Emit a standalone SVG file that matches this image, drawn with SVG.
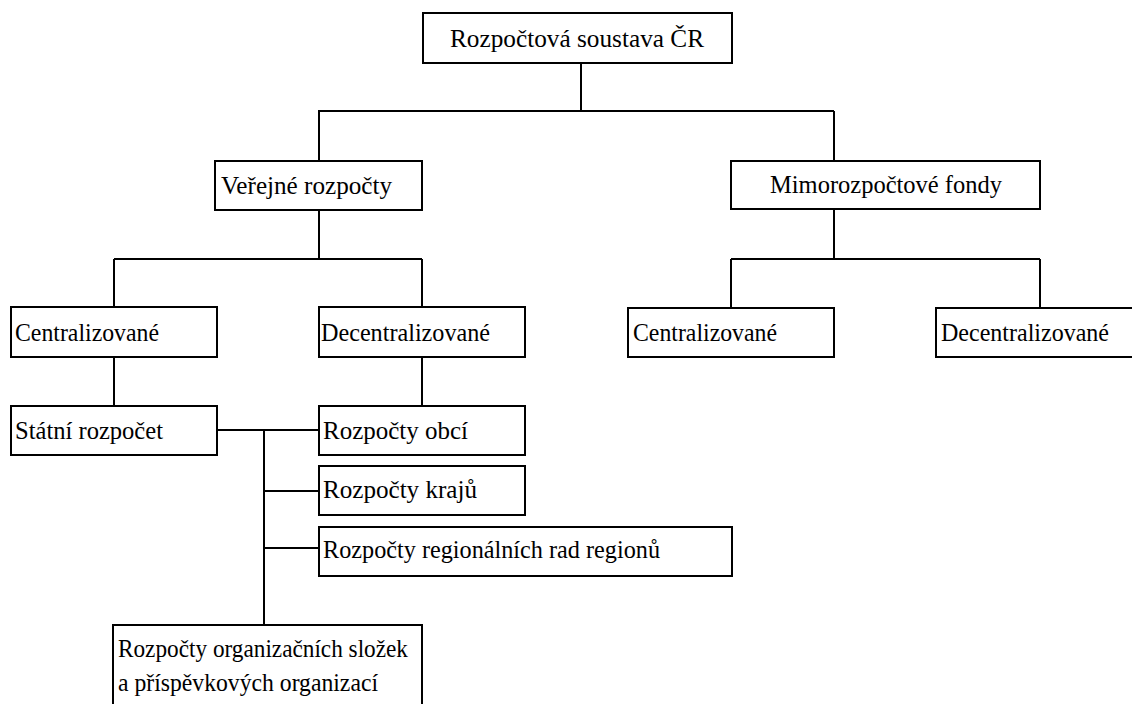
<svg xmlns="http://www.w3.org/2000/svg" width="1132" height="704" viewBox="0 0 1132 704">
<style>
.box{fill:#fff;stroke:#000;stroke-width:2}
.ln{fill:none;stroke:#000;stroke-width:2}
text{font-family:"Liberation Serif","Times New Roman",serif;font-size:25px;fill:#000}
</style>
<rect width="1132" height="704" fill="#fff"/>
<g id="connectors">
<path class="ln" d="M581 63V111M318 111H834M319 111V161M834 111V161"/>
<path class="ln" d="M319 210V259M114 259H422M114 259V307M422 259V307"/>
<path class="ln" d="M834 209V259M731 259H1040M731 259V308M1040 259V308"/>
<path class="ln" d="M114 357V406M422 357V406"/>
<path class="ln" d="M217 430H319M264 430V625M264 491H319M264 548H319"/>
</g>
<g id="n_root"><rect class="box" x="423" y="13" width="309" height="50"/><text x="450" y="47" textLength="254" lengthAdjust="spacingAndGlyphs">Rozpočtová soustava ČR</text></g>
<g id="n_verejne"><rect class="box" x="215" y="161" width="207" height="49"/><text x="221" y="194" textLength="171" lengthAdjust="spacingAndGlyphs">Veřejné rozpočty</text></g>
<g id="n_mimo"><rect class="box" x="731" y="161" width="309" height="48"/><text x="770" y="193" textLength="232" lengthAdjust="spacingAndGlyphs">Mimorozpočtové fondy</text></g>
<g id="n_centr1"><rect class="box" x="11" y="307" width="206" height="50"/><text x="15" y="341" textLength="144" lengthAdjust="spacingAndGlyphs">Centralizované</text></g>
<g id="n_decentr1"><rect class="box" x="319" y="307" width="206" height="50"/><text x="321" y="341" textLength="169" lengthAdjust="spacingAndGlyphs">Decentralizované</text></g>
<g id="n_centr2"><rect class="box" x="628" y="308" width="206" height="49"/><text x="633" y="341" textLength="144" lengthAdjust="spacingAndGlyphs">Centralizované</text></g>
<g id="n_decentr2"><rect class="box" x="936" y="308" width="210" height="49"/><text x="941" y="341" textLength="168" lengthAdjust="spacingAndGlyphs">Decentralizované</text></g>
<g id="n_statni"><rect class="box" x="11" y="406" width="206" height="49"/><text x="15" y="439" textLength="148" lengthAdjust="spacingAndGlyphs">Státní rozpočet</text></g>
<g id="n_obci"><rect class="box" x="319" y="406" width="206" height="49"/><text x="323" y="439" textLength="145" lengthAdjust="spacingAndGlyphs">Rozpočty obcí</text></g>
<g id="n_kraju"><rect class="box" x="319" y="466" width="206" height="49"/><text x="323" y="498" textLength="154" lengthAdjust="spacingAndGlyphs">Rozpočty krajů</text></g>
<g id="n_rad"><rect class="box" x="319" y="527" width="413" height="49"/><text x="323" y="558" textLength="337" lengthAdjust="spacingAndGlyphs">Rozpočty regionálních rad regionů</text></g>
<g id="n_org"><rect class="box" x="113" y="625" width="309" height="90"/><text x="118" y="657" textLength="290" lengthAdjust="spacingAndGlyphs">Rozpočty organizačních složek</text><text x="118" y="691" textLength="260" lengthAdjust="spacingAndGlyphs">a příspěvkových organizací</text></g>
</svg>
